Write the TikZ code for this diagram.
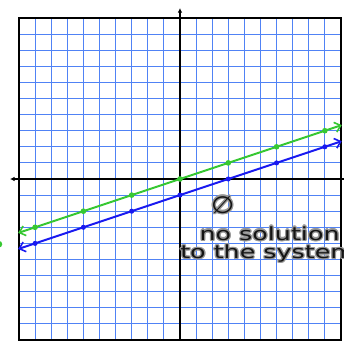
\documentclass[tikz,border=0pt]{standalone}
\usepackage{fontspec}
\setmainfont{DejaVu Sans}
\usetikzlibrary{arrows.meta}
\definecolor{gridblue}{RGB}{80,130,245}
\definecolor{lgreen}{RGB}{55,200,50}
\definecolor{lblue}{RGB}{25,25,240}
\definecolor{ink}{RGB}{20,20,20}
\definecolor{halo}{RGB}{150,150,150}
\tikzset{
  gridline/.style={draw=gridblue, line width=0.85pt},
  frameline/.style={draw=black, line width=1.8pt},
  axisline/.style={draw=black, line width=1.8pt, -{Latex[length=4pt,width=4pt]}},
  grline/.style={draw=lgreen, line width=1.7pt, {Straight Barb[length=5pt,width=9pt,line width=1.4pt]}-{Straight Barb[length=5pt,width=9pt,line width=1.4pt]}},
  blline/.style={draw=lblue, line width=1.7pt, {Straight Barb[length=5pt,width=9pt,line width=1.4pt]}-{Straight Barb[length=5pt,width=9pt,line width=1.4pt]}},
  gdot/.style={circle, fill=lgreen, inner sep=0pt, minimum size=5pt},
  bdot/.style={circle, fill=lblue, inner sep=0pt, minimum size=4.5pt},
  hand/.style={text=ink, font=\fontsize{16}{18}\selectfont, inner sep=0pt, xscale=1.4},
  handhalo/.style={hand, text=halo},
}
\begin{document}
\begin{tikzpicture}[x=0.5cm,y=0.5cm]
\useasboundingbox (-11.18,-10.06) rectangle (10.19,11.12);
% grid
\draw[gridline, step=1] (-10,-10) grid (10,10);
\draw[frameline] (-10,-10) rectangle (10,10);
% axes
\coordinate (yb) at (0,-10.2);
\coordinate (yt) at (0,10.62);
\coordinate (xr) at (10.4,0);
\coordinate (xl) at (-10.56,0);
\draw[axisline] (yb) -- (yt);
\draw[axisline] (xr) -- (xl);
% green line y = x/3
\coordinate (gL) at (-10.05,-3.35);
\coordinate (gR) at (10.05,3.35);
\draw[grline] (gL) -- (gR);
\foreach \x [count=\k] in {-9,-6,-3,0,3,6,9} {
  \node[gdot] (g\k) at (\x,\x/3) {};
}
% blue line y = x/3 - 1
\coordinate (bL) at (-10.05,-4.35);
\coordinate (bR) at (10.05,2.35);
\draw[blline] (bL) -- (bR);
\foreach \x [count=\k] in {-9,-6,-3,0,3,6,9} {
  \node[bdot] (b\k) at (\x,\x/3-1) {};
}
% small green mark at the left edge
\node[circle, fill=lgreen, inner sep=0pt, minimum size=6pt] (gm) at (-11.25,-4.05) {};
% text halos
\foreach \dx/\dy [count=\k] in {0.08/0, -0.08/0, 0/0.08, 0/-0.08, 0.06/0.06, -0.06/-0.06, 0.06/-0.06, -0.06/0.06} {
  \node[handhalo, font=\fontsize{21}{24}\selectfont, xscale=0.8] (eh\k) at (2.65+\dx,-1.6+\dy) {∅};
  \node[handhalo, anchor=base west] (t1h\k) at (1.2+\dx,-3.8+\dy) {no solution};
  \node[handhalo, anchor=base west] (t2h\k) at (0+\dx,-4.95+\dy) {to the system};
}
% text
\node[hand, font=\fontsize{21}{24}\selectfont, xscale=0.8] (empty) at (2.65,-1.6) {∅};
\node[hand, anchor=base west] (t1) at (1.2,-3.8) {no solution};
\node[hand, anchor=base west] (t2) at (0,-4.95) {to the system};
\end{tikzpicture}
\end{document}
